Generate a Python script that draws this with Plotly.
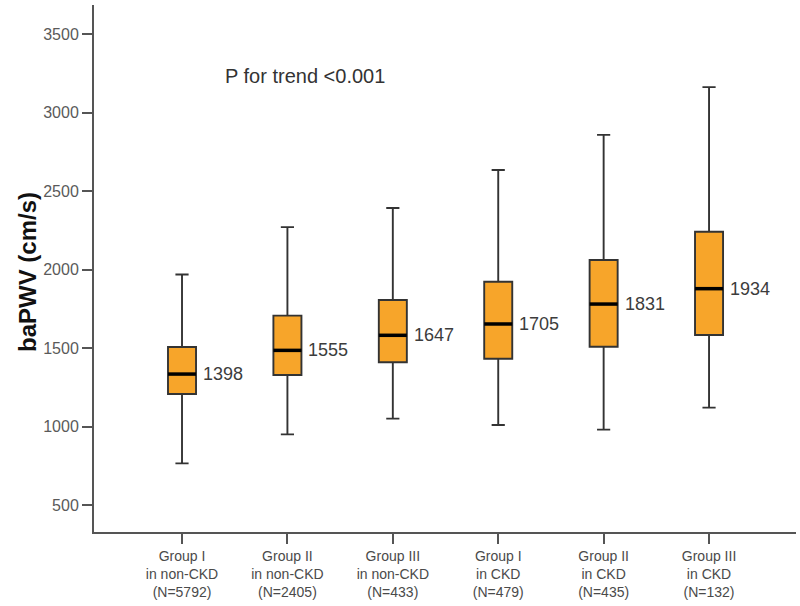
import plotly.graph_objects as go

# ---- data ----
groups = ["Group I<br>in non-CKD<br>(N=5792)", "Group II<br>in non-CKD<br>(N=2405)",
          "Group III<br>in non-CKD<br>(N=433)", "Group I<br>in CKD<br>(N=479)",
          "Group II<br>in CKD<br>(N=435)", "Group III<br>in CKD<br>(N=132)"]
lower_whisker = [765, 950, 1050, 1010, 980, 1120]
q1_values = [1207, 1328, 1409, 1432, 1508, 1583]
median_values = [1334, 1485, 1581, 1653, 1780, 1878]
q3_values = [1506, 1706, 1806, 1922, 2061, 2241]
upper_whisker = [1968, 2270, 2392, 2634, 2858, 3162]
mean_labels = ["1398", "1555", "1647", "1705", "1831", "1934"]
y_ticks = [500, 1000, 1500, 2000, 2500, 3000, 3500]

FONT = "Liberation Sans, Arial, sans-serif"
BOX_W = 0.266
xs = list(range(len(groups)))

fig = go.Figure()
fig.add_trace(go.Box(
    x=xs, q1=q1_values, median=median_values, q3=q3_values,
    lowerfence=lower_whisker, upperfence=upper_whisker,
    width=BOX_W, whiskerwidth=0.47, boxpoints=False,
    fillcolor="#F7A52A", line=dict(color="#333333", width=1.9),
    hoverinfo="skip", showlegend=False,
))

# thick median bars
mx, my = [], []
for i, m in zip(xs, median_values):
    mx += [i - BOX_W / 2, i + BOX_W / 2, None]
    my += [m, m, None]
fig.add_trace(go.Scatter(x=mx, y=my, mode="lines",
                         line=dict(color="#000000", width=3.5),
                         hoverinfo="skip", showlegend=False))

for i, m, lab in zip(xs, median_values, mean_labels):
    fig.add_annotation(x=i + BOX_W / 2, y=m, text=lab, showarrow=False,
                       xanchor="left", yanchor="middle", xshift=5,
                       font=dict(family=FONT, size=18, color="#3c3c3c"))

fig.add_annotation(xref="paper", yref="paper", x=(222.7 - 94) / 702, y=(532 - 75.7) / 527,
                   text="P for trend <0.001", showarrow=False, xanchor="left", yanchor="middle",
                   font=dict(family=FONT, size=20, color="#333333"))

fig.add_annotation(xref="paper", yref="paper", x=(27 - 94) / 702, y=(532 - 272) / 527,
                   text="<b>baPWV (cm/s)</b>", textangle=-90, showarrow=False,
                   xanchor="center", yanchor="middle",
                   font=dict(family=FONT, size=24, color="#111111"))

fig.update_layout(
    width=800, height=606,
    margin=dict(l=94, r=4, t=5, b=74),
    plot_bgcolor="white", paper_bgcolor="white",
    showlegend=False,
    xaxis=dict(range=[-0.835, 5.825], tickvals=xs, ticktext=groups,
               showline=True, linecolor="#555555", linewidth=2,
               ticks="outside", ticklen=10, tickwidth=2, tickcolor="#555555",
               showgrid=False, zeroline=False,
               tickfont=dict(family=FONT, size=14, color="#4a4a4a")),
    yaxis=dict(range=[328, 3685], tickvals=y_ticks,
               showline=True, linecolor="#555555", linewidth=2,
               ticks="outside", ticklen=10, tickwidth=2, tickcolor="#555555",
               showgrid=False, zeroline=False,
               tickfont=dict(family=FONT, size=16, color="#5a5a5a")),
)

fig.write_html("out.html",
               config={"displayModeBar": False},
               post_script="document.body.style.margin='0';document.body.style.padding='0';"
                           "document.body.style.overflow='hidden';")
